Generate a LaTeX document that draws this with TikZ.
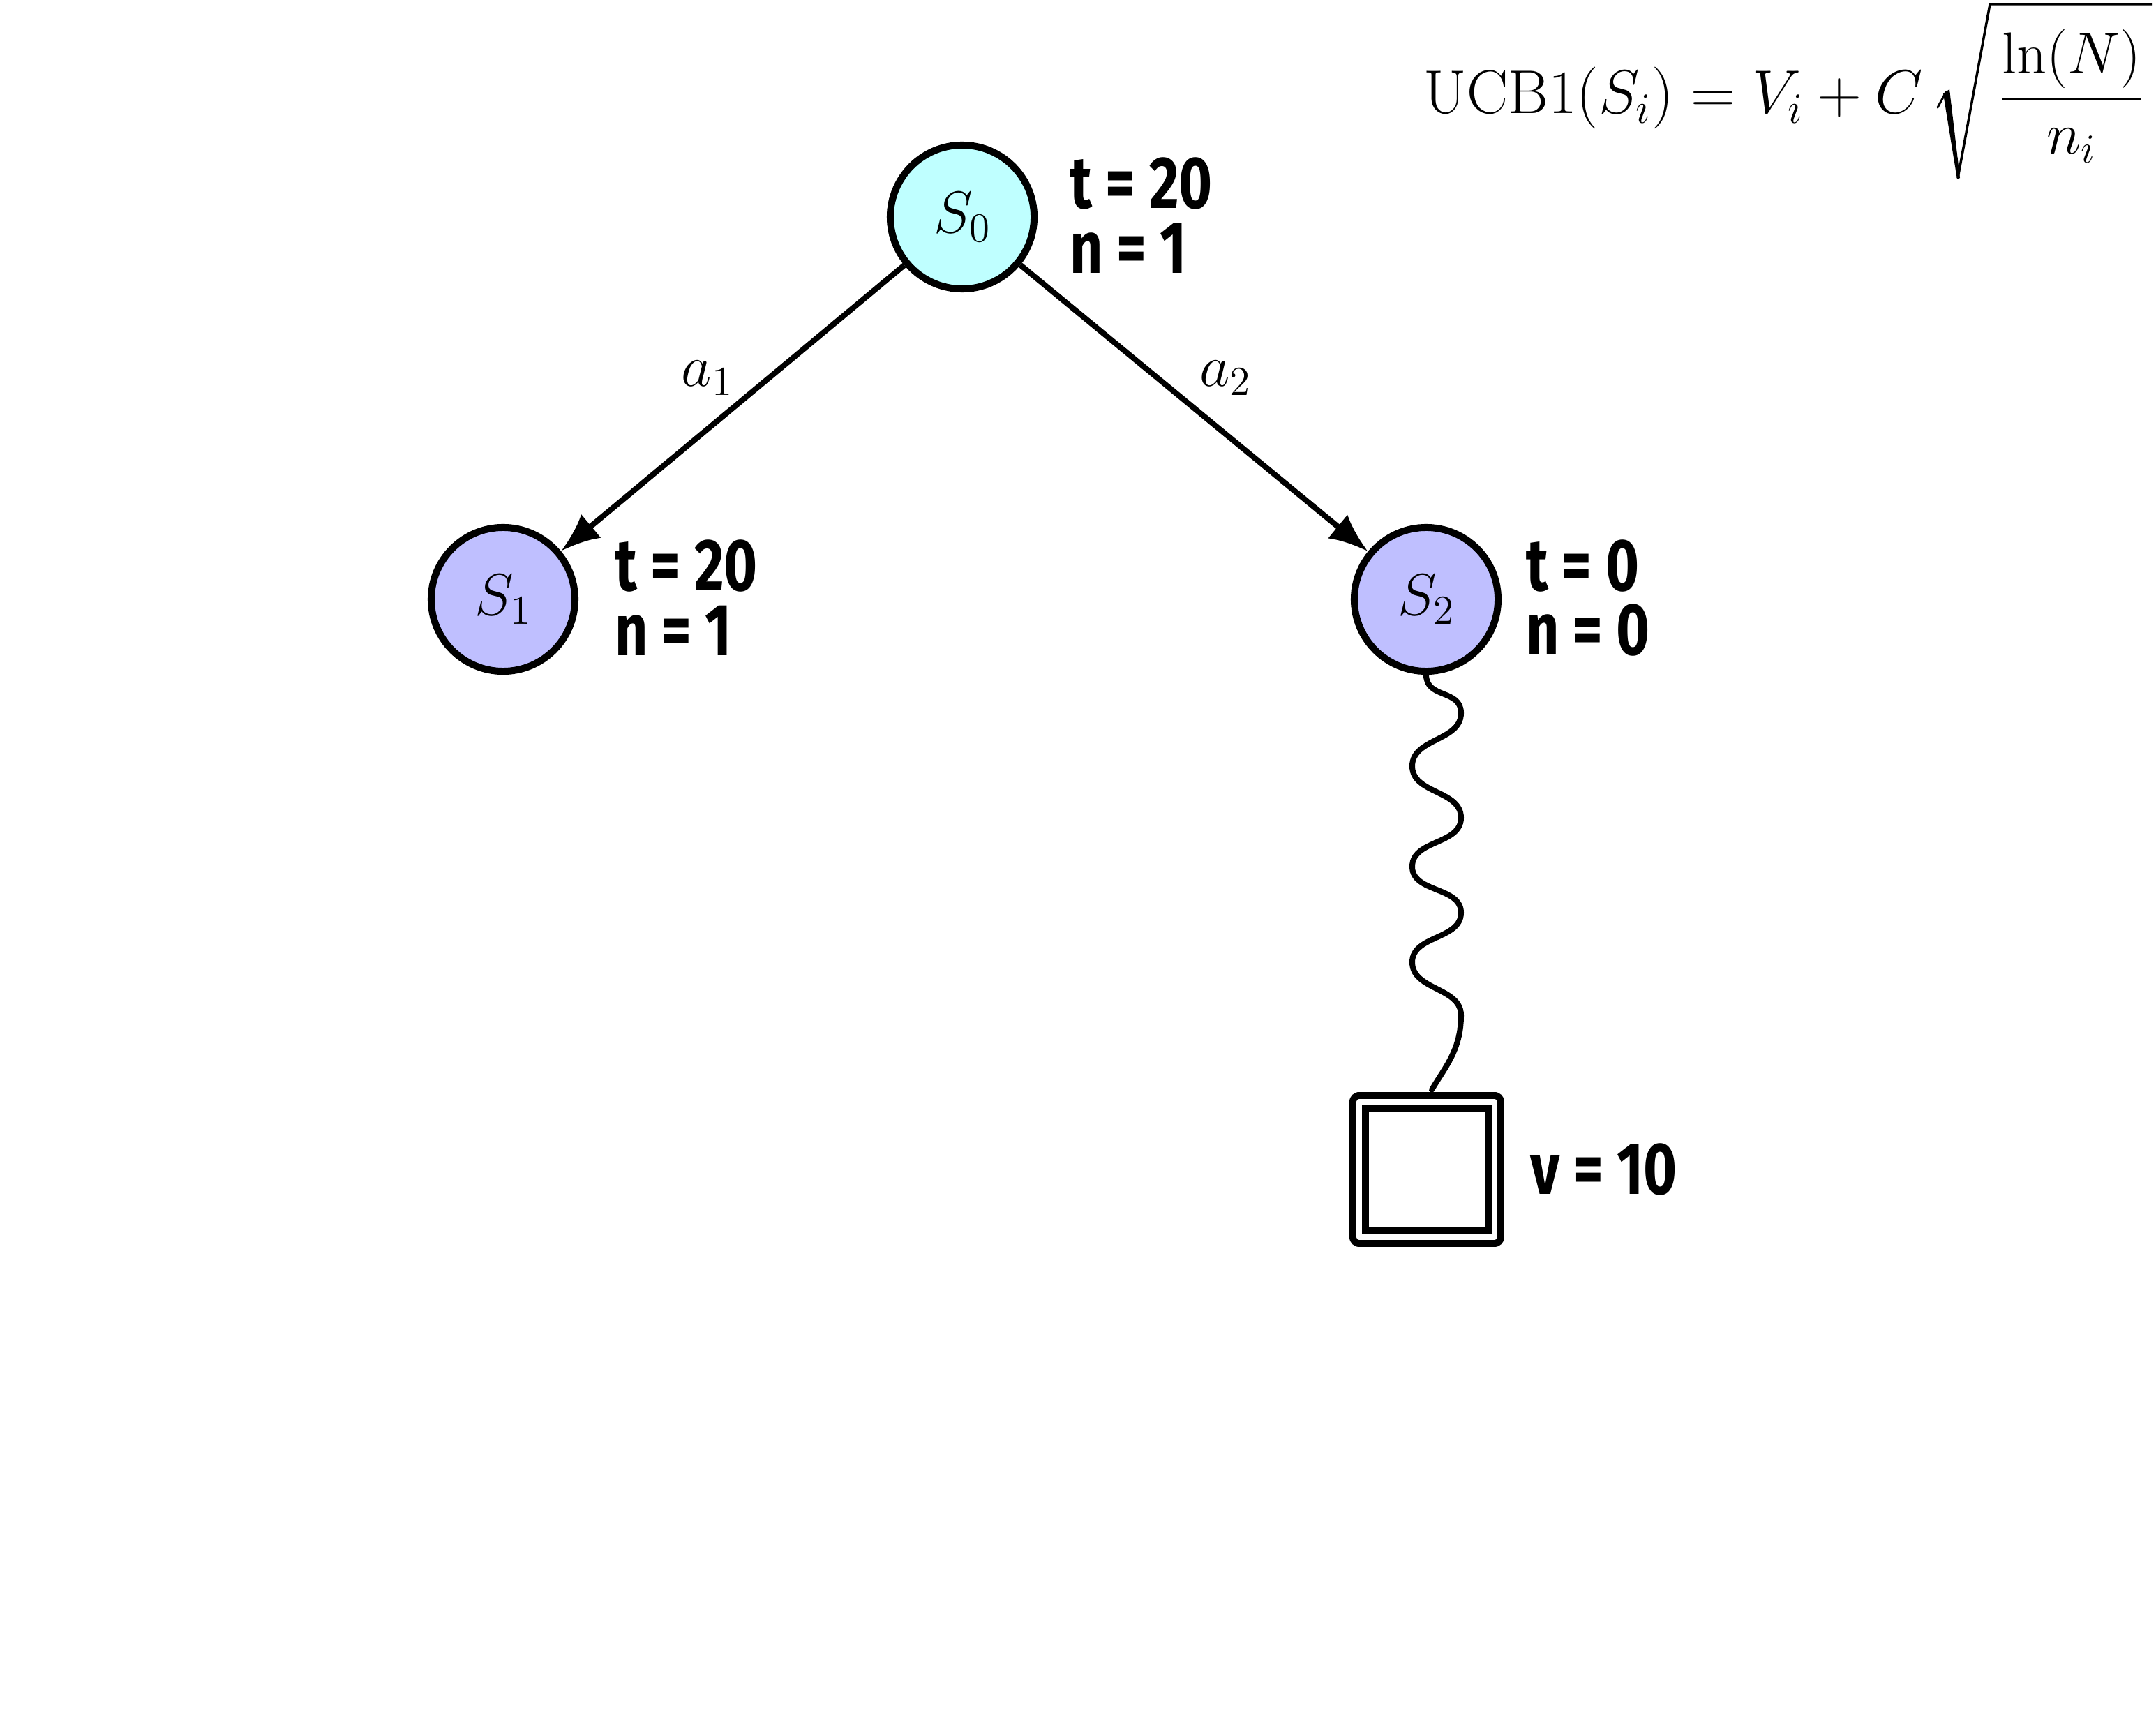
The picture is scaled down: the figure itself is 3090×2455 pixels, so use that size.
\RequirePackage{fix-cm}
\documentclass[tikz,border=0pt]{standalone}
\usepackage{fontspec}
\newfontfamily\handfont[FakeStretch=0.78]{Fira Sans}
\usetikzlibrary{arrows.meta}
\definecolor{rootfill}{RGB}{191,255,255}
\definecolor{childfill}{RGB}{191,191,255}
\begin{document}
\begin{tikzpicture}[x=0.01cm,y=-0.01cm,
  state/.style={circle,draw,line width=0.1cm,minimum size=2.06cm,inner sep=0pt,
    font=\fontsize{24}{29}\selectfont},
  rootstate/.style={state,fill=rootfill},
  childstate/.style={state,fill=childfill},
  stats/.style={anchor=west,align=left,inner sep=0pt,
    font=\handfont\bfseries\fontsize{30}{26.4}\selectfont},
  move/.style={line width=0.08cm,-{Latex[length=0.56cm,width=0.44cm]}},
  movelabel/.style={font=\fontsize{24}{29}\selectfont,inner sep=0pt},
  terminal/.style={rectangle,draw,double,double distance=0.08cm,line width=0.1cm,
    line join=round,minimum size=1.94cm,inner sep=0pt,fill=white},
  rollout/.style={line width=0.08cm,line cap=round},
  formula/.style={inner sep=0pt,font=\fontsize{24}{29}\selectfont}
]
\useasboundingbox (0,0) rectangle (3090,2455);

% tree nodes
\node[rootstate]  (s0) at (1379,311) {$S_0$};
\node[childstate] (s1) at (721,859)  {$S_1$};
\node[childstate] (s2) at (2044,859) {$S_2$};
\node[terminal]   (term) at (2045,1676) {};

% visit statistics
\node[stats] (s0stats) at (1533,309) {t = 20\\n = 1};
\node[stats] (s1stats) at (881,857)  {t = 20\\n = 1};
\node[stats] (s2stats) at (2187,857) {t = 0\\n = 0};
\node[stats] (termval) at (2193,1676) {v = 10};

% expansion edges
\draw[move] (s0) -- node[movelabel,shift={(-36,-43)}] (a1) {$a_1$} (s1);
\draw[move] (s0) -- node[movelabel,shift={(45,-43)}] (a2) {$a_2$} (s2);

% simulation (rollout) down to a terminal state
\draw[rollout,shorten >=0.14cm] (s2.south)
  to[out=-90,in=90,looseness=1.2] (2094,1022)
  to[out=-90,in=90] (2024,1098)
  to[out=-90,in=90] (2094,1172)
  to[out=-90,in=90] (2024,1242)
  to[out=-90,in=90] (2094,1308)
  to[out=-90,in=90] (2024,1379)
  to[out=-90,in=90] (2094,1455)
  to[out=-90,in=60] (term.north);

% selection rule: left part, radicand, and a tall slanted radical sign
\node[formula,anchor=base west,font=\fontsize{25.2}{30}\selectfont] (ucblhs) at (2040,163)
  {$\mathrm{UCB1}(S_i) = \overline{V_i} + C$};
\node[formula,anchor=base] (ucbfrac) at (2969,163)
  {$\displaystyle\frac{\ln(N)}{n_i}$};
\draw[line width=0.03cm,line cap=round] (2777,154) -- (2789,132);
\fill (2785,134) -- (2794,128) -- (2809,255) -- (2805,257) -- cycle;
\draw[line width=0.035cm,line join=miter] (2806,255) -- (2852,6) -- (3084,6);
\end{tikzpicture}
\end{document}
